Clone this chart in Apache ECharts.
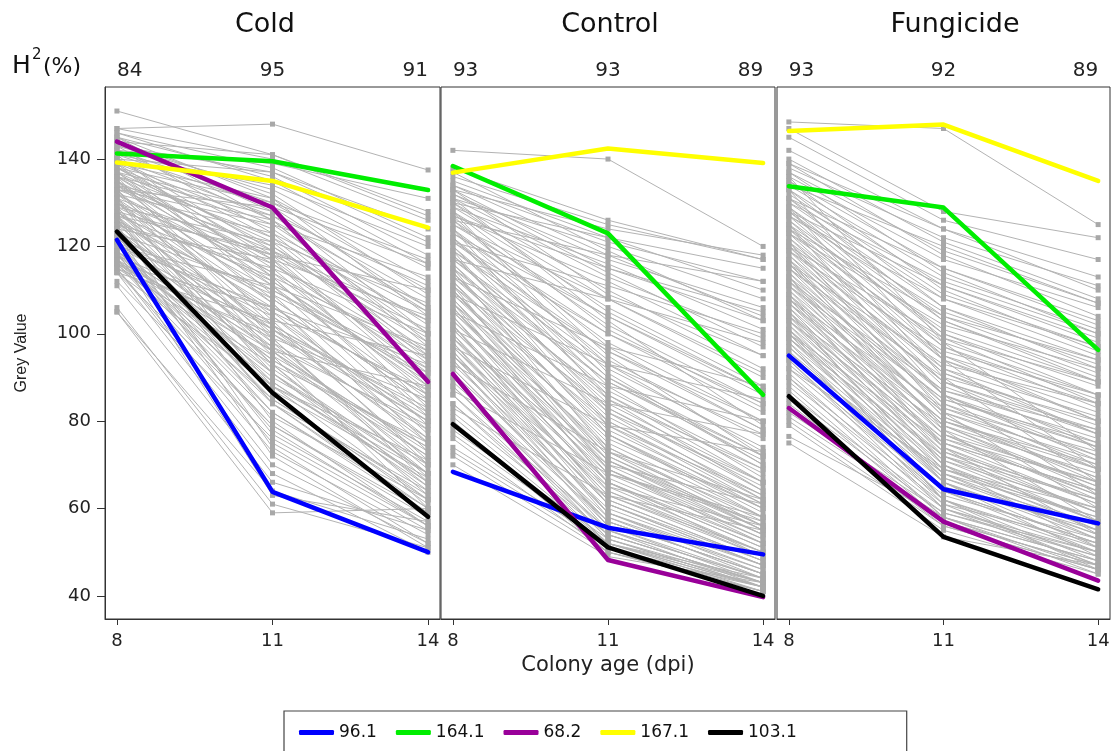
<!DOCTYPE html>
<html><head><meta charset="utf-8">
<script src="https://cdn.jsdelivr.net/npm/echarts@6/dist/echarts.min.js"></script>
<style>html,body{margin:0;padding:0;background:#fff}#c{width:1113px;height:751px}</style>
</head><body><div id="c"></div>
<script>
// ---------- data ----------
const dpi = [8, 11, 14];
const panelNames = ['Cold', 'Control', 'Fungicide'];
const h2Cold = [84, 95, 91];
const h2Control = [93, 93, 89];
const h2Fungicide = [93, 92, 89];
const yTicks = [40, 60, 80, 100, 120, 140];
const genotypes = ['96.1', '164.1', '68.2', '167.1', '103.1'];

// highlighted genotypes: [Cold, Control, Fungicide], each [8, 11, 14 dpi]
const g96_1  = [[121.5, 63.8, 50], [68.4, 55.6, 49.5], [95, 64.4, 56.6]];
const g164_1 = [[141.3, 139.5, 132.9], [138.4, 123, 86], [133.8, 128.9, 96.3]];
const g68_2  = [[144, 128.9, 89], [90.8, 48.2, 39.7], [83, 57, 43.5]];
const g167_1 = [[139.2, 135, 124.3], [136.9, 142.4, 139.1], [146.4, 147.9, 135]];
const g103_1 = [[123.4, 86.5, 58.1], [79.3, 51.1, 40], [85.7, 53.5, 41.5]];

// grey lines (other genotypes), each [8, 11, 14 dpi]
const coldGrey = [
[151,141,127],[147,148,137.5],[147,140,126],[146,138,122],[145,136,118],[144,141,128],[143,133,115],[142,130,110],[141,134,120],[140,127,105],
[139,131,112],[138,124,100],[138,120,96],[137,128,108],[136,116,92],[136,122,103],[135,112,88],[134,119,98],[134,108,84],[133,125,113],
[132,114,94],[132,104,80],[131,118,101],[130,110,90],[130,100,76],[129,121,107],[128,106,86],[128,96,72],[127,113,96],[126,102,82],
[126,92,68],[125,109,91],[124,98,78],[124,117,104],[123,89,65],[122,105,87],[122,94,74],[121,85,62],[120,101,83],[120,111,97],
[119,90,70],[118,82,60],[118,97,79],[117,87,67],[116,106,93],[116,79,58],[115,93,75],[118,84,64],[112,76,56],[116,99,85],
[119,88,71],[115,73,54],[117,81,62],[115,70,52],[111,66,55],[106,61,51],[105,59,60],[105,64,53],[114,68,50],[140,137,124],
[142,139,131],[145,126,98],[137,115,86],[133,129,116],[129,95,60],[127,80,56],[125,74,52],[121,77,57],[119,63,57],[135,103,70],
[131,86,61],[139,109,77],[117,96,88],[114,103,95],[136,99,66],[143,123,95],[128,118,110],[123,72,51],[141,113,81],[126,84,59],
[140,119,89],[137,111,79],[134,126,106],[131,107,73],[127,99,67],[124,93,63],[121,104,76],[118,91,66],[144,132,109],[139,117,83],
[146,135,116],[145,131,104],[144,128,100],[143,137,121],[142,126,97],[141,129,106],[140,122,94],[139,125,102],[138,118,88],[138,130,117],
[137,121,93],[136,113,82],[136,127,111],[135,117,91],[135,107,75],[134,114,87],[133,120,99],[133,102,71],[132,111,85],[132,123,105],
[131,98,69],[130,116,95],[130,105,78],[129,91,64],[129,112,89],[128,101,75],[127,119,103],[127,88,62],[126,108,84],[125,97,70],
[125,115,100],[124,84,60],[123,101,80],[123,110,92],[122,91,68],[121,96,73],[121,82,59],[120,106,86],[119,94,72],[119,78,56],
[118,102,81],[117,89,66],[117,75,55],[116,95,74],[116,85,63],[115,100,80],[114,88,68],[114,79,59],[127,93,65],[133,96,68]
];
const controlGrey = [
[142,140,120],[136,125,117],[135,122,110],[134,118,104],[133,124,118],[132,114,97],[131,120,108],[130,110,92],[129,116,101],[128,106,88],
[127,112,95],[126,102,84],[125,108,90],[124,98,80],[123,104,86],[122,94,76],[121,100,82],[120,90,72],[119,96,78],[118,87,69],
[117,92,74],[116,84,66],[115,89,71],[114,81,63],[113,86,68],[112,78,61],[111,83,65],[110,75,58],[109,80,62],[108,72,56],
[107,77,60],[106,70,54],[105,74,57],[104,67,52],[103,71,55],[102,65,50],[101,68,53],[100,63,49],[99,66,51],[98,61,47],
[97,64,50],[96,59,46],[95,62,48],[94,57,45],[93,60,47],[92,56,44],[91,58,46],[90,54,43],[89,57,45],[88,53,42],
[86,55,44],[84,52,42],[82,54,43],[80,51,41],[78,53,43],[76,50,41],[74,52,44],[72,50,42],[70,49,43],[137,119,103],
[130,122,115],[126,118,112],[121,111,100],[117,108,98],[113,97,88],[109,93,85],[105,88,80],[101,84,77],[97,79,73],[128,91,70],
[124,85,64],[119,79,60],[115,73,55],[111,69,52],[107,66,49],[138,126,117],[133,115,105],[93,73,62],[87,68,58],[83,63,55],
[131,103,79],[127,95,72],[122,88,67],[118,82,62],[114,77,59],[110,71,54],[106,68,57],[102,62,48],[99,70,61],[95,65,56],
[134,121,112],[133,109,95],[132,117,106],[131,113,99],[130,105,87],[129,108,91],[128,101,83],[127,115,103],[126,97,78],[125,104,87],
[124,93,73],[123,100,84],[122,90,70],[121,96,80],[120,86,66],[119,93,77],[118,83,64],[117,89,72],[116,80,61],[115,85,69],
[114,77,58],[113,82,66],[112,74,56],[111,79,63],[110,72,55],[109,76,60],[108,69,53],[107,73,58],[106,66,51],[105,71,56],
[104,64,49],[103,69,54],[102,61,47],[101,66,52],[100,59,45],[99,63,50],[98,58,44],[97,61,48],[96,56,43],[95,59,47],
[94,55,42],[92,57,45],[90,53,42],[88,55,44],[86,52,41],[84,54,43],[81,52,42],[79,50,41],[77,52,43],[73,51,42]
];
const fungicideGrey = [
[148.5,147,125],[147,128,122],[145,126,117],[142,124,110],[140,121,108],[139,118,104],[138,122,111],[137,114,100],[136,117,106],[135,110,96],
[134,113,101],[133,106,92],[132,109,97],[131,103,89],[130,106,94],[129,100,86],[128,103,90],[127,97,83],[126,100,88],[125,94,80],
[124,97,85],[123,91,77],[122,94,82],[121,88,75],[120,91,79],[119,86,72],[118,89,77],[117,83,70],[116,86,74],[115,81,67],
[114,84,72],[113,79,65],[112,82,69],[111,77,63],[110,80,67],[109,75,61],[108,78,65],[107,73,59],[106,76,63],[105,71,57],
[104,74,61],[103,69,56],[102,72,59],[101,67,54],[100,70,57],[99,66,53],[98,68,55],[97,64,52],[96,66,54],[94,62,50],
[93,64,52],[91,60,49],[90,62,51],[88,58,48],[86,60,50],[84,57,47],[82,59,49],[80,56,46],[76.5,58,45],[75,53.5,47],
[131,115,103],[127,108,97],[123,102,92],[119,96,86],[115,90,80],[111,85,75],[107,80,70],[103,76,66],[99,72,62],[95,68,58],
[136,98,73],[133,94,69],[129,90,66],[125,86,63],[121,82,60],[117,78,57],[113,74,54],[109,70,51],[105,66,49],[101,62,46],
[134,120,107],[128,111,99],[124,104,94],[120,99,89],[116,93,84],[112,87,78],[108,83,73],[104,79,68],[100,75,64],[92,69,60],
[139,124,113],[137,119,107],[135,115,102],[133,111,98],[131,108,95],[130,112,100],[129,104,91],[128,99,84],[127,105,93],[126,95,80],
[125,101,89],[124,92,77],[123,98,86],[122,89,74],[121,95,84],[120,86,71],[119,92,81],[118,84,69],[117,89,78],[116,81,66],
[115,87,76],[114,79,64],[113,85,74],[112,77,62],[111,82,71],[110,74,59],[109,80,69],[108,72,57],[107,77,66],[106,70,55],
[105,75,64],[104,68,53],[103,73,62],[102,66,51],[101,71,60],[100,64,50],[99,69,58],[98,62,48],[97,67,56],[96,61,47],
[95,65,55],[94,60,47],[92,63,53],[90,58,46],[89,61,52],[87,57,47],[85,59,50],[83,56,46],[81,58,48],[79,55,45]
];

// ---------- layout / style ----------
const FONT = 'DejaVu Sans';
const greyByPanel = [coldGrey, controlGrey, fungicideGrey];
const h2ByPanel = [h2Cold, h2Control, h2Fungicide];
const hiLines = [g96_1, g164_1, g68_2, g167_1, g103_1];
const hiColors = ['#0000ff', '#00ee00', '#990099', '#ffff00', '#000000'];
const gridBoxes = [{left: 105, width: 335}, {left: 441, width: 334}, {left: 777, width: 333}];
const titleCenters = [265, 610, 955];
const X_MIN = 7.77, X_MAX = 14.23, Y_MIN = 34.7, Y_MAX = 156.5;

const grid = gridBoxes.map(b => ({left: b.left, width: b.width, top: 87, height: 532,
  show: true, borderColor: '#333', borderWidth: 1, backgroundColor: 'transparent', containLabel: false}));

const xAxis = [];
gridBoxes.forEach((b, i) => {
  xAxis.push({
    type: 'value', gridIndex: i, position: 'bottom', min: X_MIN, max: X_MAX,
    axisLine: {show: true, onZero: false, lineStyle: {color: '#333', width: 1}},
    axisTick: {show: true, customValues: dpi, length: 6, lineStyle: {color: '#333'}},
    axisLabel: {customValues: dpi, fontSize: 18, fontFamily: FONT, color: '#222', margin: 13},
    splitLine: {show: false},
    name: i === 1 ? 'Colony age (dpi)' : '', nameLocation: 'middle', nameGap: 36,
    nameTextStyle: {fontSize: 21, fontFamily: FONT, color: '#222'}
  });
});
gridBoxes.forEach((b, i) => {
  xAxis.push({
    type: 'value', gridIndex: i, position: 'top', min: X_MIN, max: X_MAX,
    axisLine: {show: false}, axisTick: {show: false, customValues: dpi},
    axisLabel: {customValues: dpi, fontSize: 20, fontFamily: FONT, color: '#222', margin: 6,
      alignMinLabel: 'left', alignMaxLabel: 'right',
      formatter: v => String(h2ByPanel[i][dpi.indexOf(Math.round(v))])},
    splitLine: {show: false}
  });
});

const yAxis = gridBoxes.map((b, i) => i === 0 ? {
  type: 'value', gridIndex: i, min: Y_MIN, max: Y_MAX,
  axisLine: {show: true, lineStyle: {color: '#333'}},
  axisTick: {show: true, customValues: yTicks, length: 8, lineStyle: {color: '#333'}},
  axisLabel: {customValues: yTicks, fontSize: 18, fontFamily: FONT, color: '#222', margin: 14},
  splitLine: {show: false},
  name: 'Grey Value', nameLocation: 'middle', nameGap: 75,
  nameTextStyle: {fontSize: 16, fontFamily: 'Liberation Sans', color: '#222'}
} : {
  type: 'value', gridIndex: i, min: Y_MIN, max: Y_MAX, show: false, splitLine: {show: false}
});

const series = [];
greyByPanel.forEach((lines, p) => {
  lines.forEach(vals => {
    series.push({
      type: 'line', xAxisIndex: p, yAxisIndex: p, silent: true, z: 2,
      data: dpi.map((x, k) => [x, vals[k]]),
      symbol: 'rect', symbolSize: 5, showSymbol: true,
      lineStyle: {color: '#b3b3b3', width: 1}, itemStyle: {color: '#a8a8a8'},
      emphasis: {disabled: true}
    });
  });
});
hiLines.forEach((panels, g) => {
  panels.forEach((vals, p) => {
    series.push({
      type: 'line', name: genotypes[g], xAxisIndex: p, yAxisIndex: p, z: 5 + g,
      data: dpi.map((x, k) => [x, vals[k]]),
      symbol: 'none', lineStyle: {color: hiColors[g], width: 4.5, cap: 'round', join: 'round'},
      itemStyle: {color: hiColors[g]}, emphasis: {disabled: true}
    });
  });
});

const graphic = panelNames.map((t, i) => ({
  type: 'text', x: titleCenters[i], y: 25, silent: true,
  style: {text: t, fontSize: 27, fontFamily: FONT, fill: '#111',
    align: 'center', verticalAlign: 'middle', textAlign: 'center', textVerticalAlign: 'middle'}
}));
graphic.push(
  {type: 'text', x: 12, y: 66, silent: true, style: {text: 'H', fontSize: 25, fontFamily: FONT, fill: '#111', align: 'left', verticalAlign: 'middle'}},
  {type: 'text', x: 32, y: 55, silent: true, style: {text: '2', fontSize: 15, fontFamily: FONT, fill: '#111', align: 'left', verticalAlign: 'middle'}},
  {type: 'text', x: 43, y: 67, silent: true, style: {text: '(%)', fontSize: 22, fontFamily: FONT, fill: '#111', align: 'left', verticalAlign: 'middle'}}
);

const chart = echarts.init(document.getElementById('c'), null, {renderer: 'canvas'});
chart.setOption({
  animation: false,
  backgroundColor: '#fff',
  grid, xAxis, yAxis, series, graphic,
  legend: {
    data: genotypes, left: 284, top: 711, orient: 'horizontal',
    icon: 'roundRect', itemWidth: 35, itemHeight: 5, itemGap: 19,
    padding: [13, 110, 30, 15], borderColor: '#444', borderWidth: 1.2,
    textStyle: {fontSize: 17, fontFamily: FONT, color: '#111'},
    selectedMode: false
  }
});
</script></body></html>
